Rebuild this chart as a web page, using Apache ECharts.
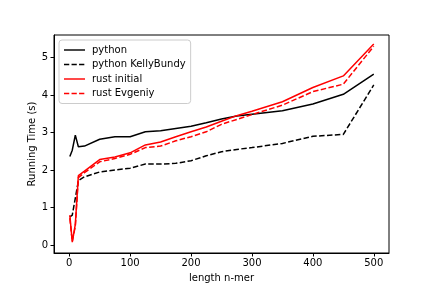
<!DOCTYPE html>
<html>
<head>
<meta charset="utf-8">
<script src="https://cdn.jsdelivr.net/npm/echarts@6/dist/echarts.min.js"></script>
<style>html,body{margin:0;padding:0;background:#fff}#c{width:432px;height:288px}</style>
</head>
<body>
<div id="c"></div>
<script>
const lengths = [1, 5, 10, 15, 25, 50, 75, 100, 125, 150, 175, 200, 225, 250, 275, 300, 350, 400, 450, 500];
const python = [2.36, 2.53, 2.93, 2.62, 2.64, 2.82, 2.89, 2.89, 3.02, 3.05, 3.11, 3.17, 3.26, 3.36, 3.44, 3.49, 3.58, 3.76, 4.02, 4.56];
const pythonKellyBundy = [0.75, 0.8, 1.25, 1.72, 1.82, 1.95, 2.0, 2.05, 2.16, 2.16, 2.18, 2.25, 2.38, 2.49, 2.55, 2.6, 2.71, 2.9, 2.95, 4.27];
const rustInitial = [0.8, 0.08, 0.55, 1.85, 1.97, 2.28, 2.35, 2.46, 2.67, 2.75, 2.89, 3.02, 3.15, 3.3, 3.45, 3.57, 3.82, 4.2, 4.51, 5.36];
const rustEvgeniy = [0.72, 0.1, 0.5, 1.8, 1.93, 2.22, 2.31, 2.42, 2.6, 2.64, 2.78, 2.89, 3.02, 3.22, 3.35, 3.48, 3.73, 4.09, 4.29, 5.3];
const xTicks = [0, 100, 200, 300, 400, 500];
const yTicks = [0, 1, 2, 3, 4, 5];

const font = 'DejaVu Sans';
const solidIcon = 'path://M0,0h22v1.5h-22z';
const dashIcon = 'path://M0,0h5.5v1.5h-5.5z M7.9,0h5.5v1.5h-5.5z M15.8,0h5.5v1.5h-5.5z M22,0h0.01v1.5h-0.01z';
function pairs(ys){ return lengths.map((x,i)=>[x, ys[i]]); }
function mk(name, ys, color, dashed){
  return {
    name, type:'line', data: pairs(ys), symbol:'none', animation:false,
    lineStyle:{color, width:1.5, type: dashed ? [5.5, 2.4] : 'solid'},
    itemStyle:{color}
  };
}
const chart = echarts.init(document.getElementById('c'), null, {renderer:'canvas'});
chart.setOption({
  animation:false,
  backgroundColor:'#fff',
  grid:{left:54, right:43, top:35, bottom:35, show:true, borderColor:'#000', borderWidth:1, backgroundColor:'transparent'},
  legend:{
    left:59, top:40, orient:'vertical', itemGap:4.5, itemWidth:21, itemHeight:1.5,
    backgroundColor:'rgba(255,255,255,0.8)', borderColor:'#ccc', borderWidth:1, borderRadius:3,
    padding:[5,5,5,5],
    textStyle:{fontFamily:font, fontSize:10, color:'#000', padding:[0,0,0,2]},
    data:[
      {name:'python', icon:solidIcon},
      {name:'python KellyBundy', icon:dashIcon},
      {name:'rust initial', icon:solidIcon},
      {name:'rust Evgeniy', icon:dashIcon}
    ]
  },
  xAxis:{
    type:'value', min:-25, max:525,
    name:'length n-mer', nameLocation:'middle', nameGap:20, nameMoveOverlap:false,
    nameTextStyle:{fontFamily:font, fontSize:10, color:'#000'},
    axisLine:{show:true, onZero:false, lineStyle:{color:'#000'}},
    axisTick:{show:true, length:3.5, customValues:xTicks, lineStyle:{color:'#000'}},
    axisLabel:{customValues:xTicks, fontFamily:font, fontSize:10, color:'#000', margin:5},
    splitLine:{show:false}
  },
  yAxis:{
    type:'value', min:-0.21, max:5.6,
    name:'Running Time (s)', nameLocation:'middle', nameGap:17, nameMoveOverlap:false,
    nameTextStyle:{fontFamily:font, fontSize:10, color:'#000'},
    axisLine:{show:true, onZero:false, lineStyle:{color:'#000'}},
    axisTick:{show:true, length:3.5, customValues:yTicks, lineStyle:{color:'#000'}},
    axisLabel:{customValues:yTicks, fontFamily:font, fontSize:10, color:'#000', margin:6},
    splitLine:{show:false}
  },
  series:[
    mk('python', python, '#000000', false),
    mk('python KellyBundy', pythonKellyBundy, '#000000', true),
    mk('rust initial', rustInitial, '#ff0000', false),
    mk('rust Evgeniy', rustEvgeniy, '#ff0000', true)
  ]
});
</script>
</body>
</html>
